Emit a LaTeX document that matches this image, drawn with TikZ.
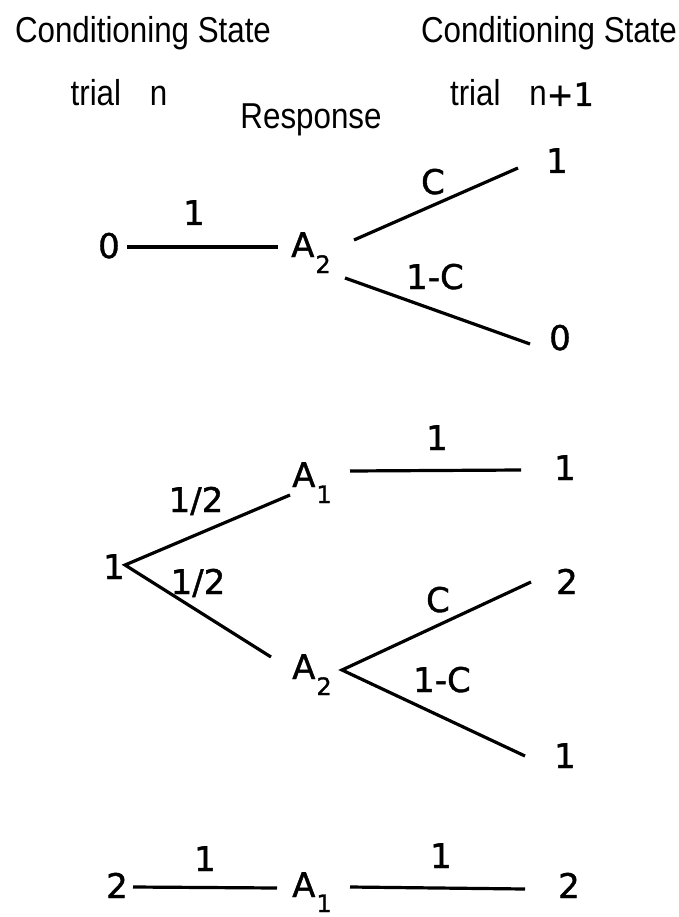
\documentclass[tikz,border=0pt]{standalone}
\usepackage{fontspec}
\newfontfamily\tw[FakeBold=1.2]{DejaVu Sans}
\newfontfamily\hd[FakeStretch=0.87]{Liberation Sans}
\newcommand\sbsz{\fontsize{24}{24}\selectfont}
\begin{document}
\begin{tikzpicture}[x=1pt,y=-1pt,
  lbl/.style={font=\tw\fontsize{34}{34}\selectfont, inner sep=0pt, anchor=base},
  resp/.style={font=\tw\fontsize{34}{34}\selectfont, inner sep=0pt, anchor=base west},
  hdr/.style={font=\hd\fontsize{36}{36}\selectfont, inner sep=0pt, anchor=base},
  br/.style={line width=3.2pt}]
\useasboundingbox (0,0) rectangle (678,917);
% headers
\node[hdr] (h1) at (143,43) {Conditioning State};
\node[hdr] (h2) at (549,43) {Conditioning State};
\node[hdr] (t1) at (119,106) {trial\hspace{0.8em}n};
\node[hdr] (t2) at (522,106) {trial\hspace{0.8em}n{\tw\fontsize{32}{32}\selectfont +1}};
\node[hdr] (rs) at (311,129) {Response};
% section 1
\node[lbl] (s0) at (109,258) {0};
\node[resp] (r1) at (291,257) {A\kern1pt\raisebox{-16pt}{\sbsz 2}};
\node[lbl] (e11) at (557,173) {1};
\node[lbl] (e10) at (560,350) {0};
\coordinate (p1a) at (127,247);
\coordinate (p1b) at (278,247);
\coordinate (p1c) at (354,240);
\coordinate (p1d) at (518,168);
\coordinate (p1e) at (345,278);
\coordinate (p1f) at (530,344);
\draw[br] (p1a) -- (p1b);
\draw[br] (p1c) -- (p1d);
\draw[br] (p1e) -- (p1f);
\node[lbl] (l11) at (194,225) {1};
\node[lbl] (l12) at (433,194) {C};
\node[lbl] (l13) at (435,289) {1-C};
% section 2
\node[lbl] (s1) at (114,579) {1};
\coordinate (p2a) at (125,565);
\coordinate (p2b) at (290,495);
\coordinate (p2c) at (271,657);
\draw[br] (p2b) -- (p2a) -- (p2c);
\node[lbl] (l21) at (196,512) {1/2};
\node[lbl] (l22) at (198,594) {1/2};
\node[resp] (r21) at (292,487) {A\kern1pt\raisebox{-16pt}{\sbsz 1}};
\coordinate (p2d) at (350,471);
\coordinate (p2e) at (521,470);
\draw[br] (p2d) -- (p2e);
\node[lbl] (l23) at (437,450) {1};
\node[lbl] (e21) at (565,480) {1};
\node[resp] (r22) at (292,679) {A\kern1pt\raisebox{-16pt}{\sbsz 2}};
\coordinate (p2f) at (342,670);
\coordinate (p2g) at (531,582);
\coordinate (p2h) at (525,756);
\draw[br] (p2g) -- (p2f) -- (p2h);
\node[lbl] (l24) at (438,612) {C};
\node[lbl] (e22) at (567,594) {2};
\node[lbl] (l25) at (442,692) {1-C};
\node[lbl] (e23) at (565,768) {1};
% section 3
\node[lbl] (s2) at (117,898) {2};
\node[resp] (r3) at (292,897) {A\kern1pt\raisebox{-15pt}{\sbsz 1}};
\node[lbl] (e3) at (569,898) {2};
\coordinate (p3a) at (133,887);
\coordinate (p3b) at (277,888);
\coordinate (p3c) at (350,887);
\coordinate (p3d) at (525,889);
\draw[br] (p3a) -- (p3b);
\draw[br] (p3c) -- (p3d);
\node[lbl] (l31) at (205,871) {1};
\node[lbl] (l32) at (441,868) {1};
\end{tikzpicture}
\end{document}
